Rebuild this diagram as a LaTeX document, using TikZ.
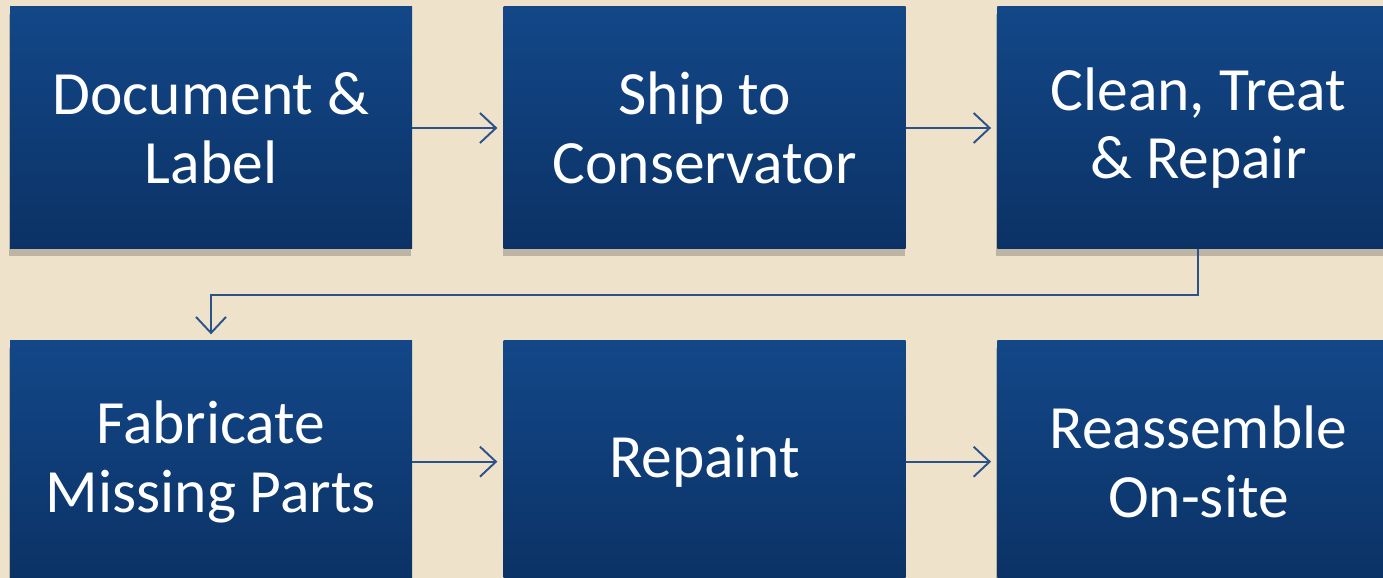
\documentclass[tikz,border=0pt]{standalone}
\usepackage{fontspec}
\setmainfont{Carlito}
\usepackage{tikz}
\usetikzlibrary{arrows.meta, positioning, shadows}
\definecolor{mybeige}{RGB}{238,226,203}
\definecolor{myblue}{RGB}{19,71,136}
\definecolor{mydarkblue}{RGB}{11,50,101}
\definecolor{myline}{RGB}{44,82,138}
\tikzstyle{stepbox} = [rectangle, minimum width=8.04cm, minimum height=4.84cm, align=center, inner sep=0pt, top color=myblue, bottom color=mydarkblue, text=white, font=\fontsize{35}{39}\selectfont, drop shadow={shadow xshift=-0.6pt, shadow yshift=-4pt, opacity=0.3, fill=black!70}]
\tikzstyle{arrow} = [line width=1.1pt, myline, -{Straight Barb[length=3.2mm,width=6mm]}, shorten >=1.2mm]

\begin{document}
\begin{tikzpicture}[node distance=1.82cm and 1.82cm]
\useasboundingbox (0,0) rectangle (27.66,-11.56);
\fill[mybeige] (0,0) rectangle (27.66,-11.56);
\clip (0,0) rectangle (27.66,-11.56);

% top row
\node[stepbox] (document) at (4.22,-2.56) {Document \&\\Label};
\node[stepbox, right=of document] (ship) {Ship to\\Conservator};
\node[stepbox, right=of ship] (clean) {Clean, Treat\\\& Repair};

% bottom row
\node[stepbox, below=of document] (fabricate) {Fabricate\\Missing Parts};
\node[stepbox, right=of fabricate] (repaint) {Repaint};
\node[stepbox, right=of repaint] (reassemble) {Reassemble\\On-site};

\draw[arrow] (document.east) -- (ship.west);
\draw[arrow] (ship.east) -- (clean.west);
\draw[arrow] (clean.south) -- ++(0,-0.92) -| (fabricate.north);
\draw[arrow] (fabricate.east) -- (repaint.west);
\draw[arrow] (repaint.east) -- (reassemble.west);
\end{tikzpicture}
\end{document}
